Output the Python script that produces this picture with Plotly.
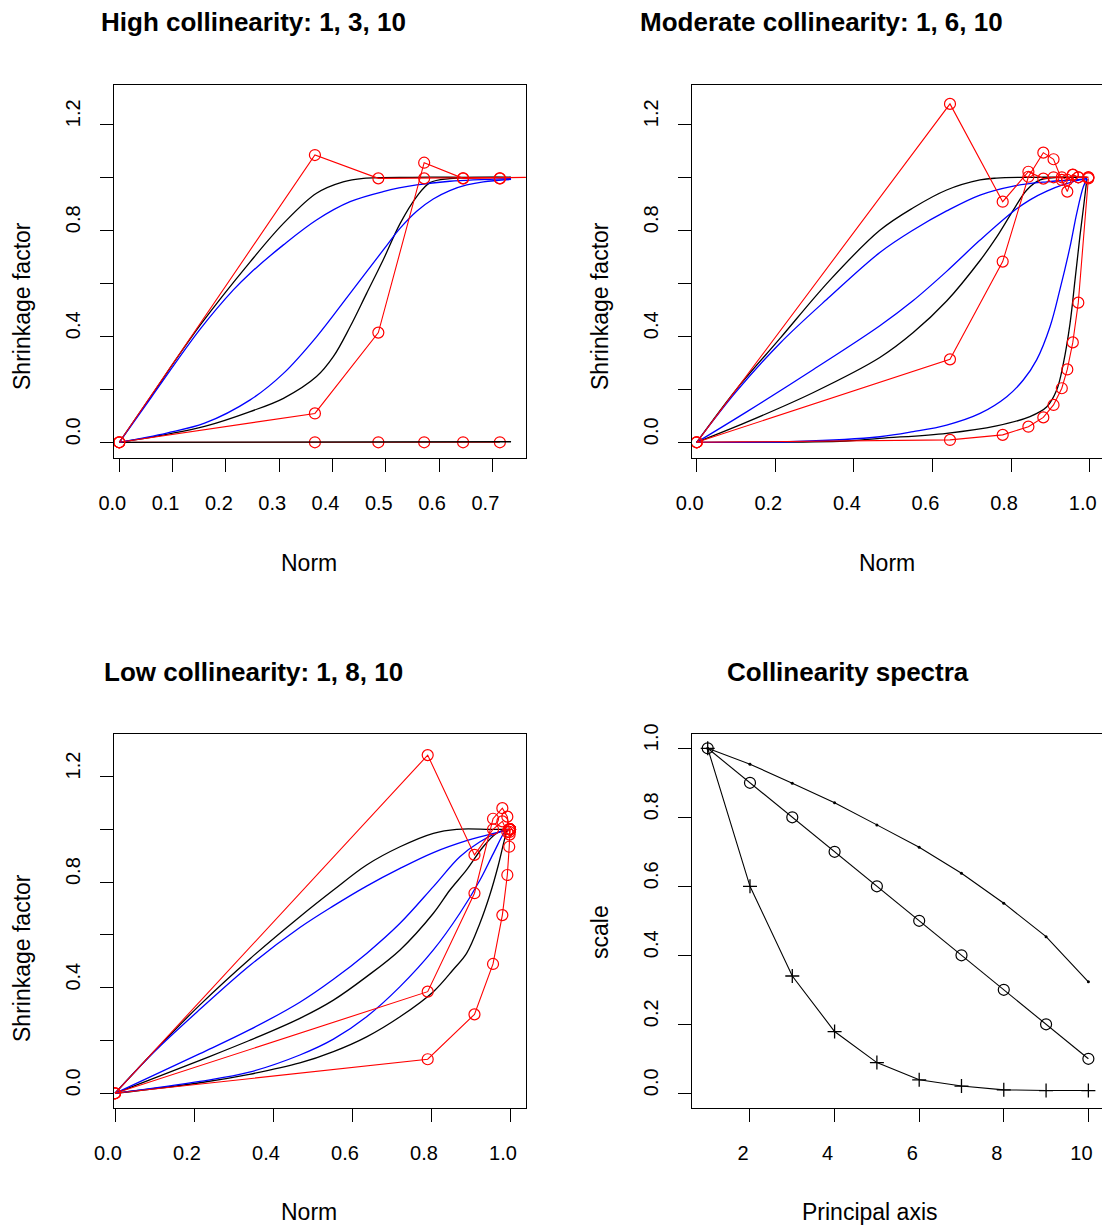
import plotly.graph_objects as go

W, H = 1102, 1226
FONT = "Liberation Sans, Arial, Helvetica, sans-serif"

# ---------------- Panel 1: High collinearity (components 1, 3, 10) ----------------
p1_pls_x = [0, 0.367, 0.486, 0.572, 0.645, 0.714, 0.80]
p1_pls_c1 = [0, 1.084, 0.996, 0.996, 0.996, 0.996, 1.0]
p1_pls_c3 = [0, 0.109, 0.414, 1.055, 0.996, 0.996, 1.0]
p1_pls_c10_x = [0, 0.367, 0.486, 0.572, 0.645, 0.714]
p1_pls_c10 = [0, 0, 0, 0, 0, 0]

p1_black_c1_x = [0, 0.058, 0.151, 0.2456, 0.308, 0.370, 0.420, 0.458, 0.55, 0.65, 0.735]
p1_black_c1_y = [0, 0.17, 0.44, 0.681, 0.826, 0.94, 0.983, 0.996, 1.0, 1.0, 1.0]
p1_blue_c1_x = [0, 0.06, 0.151, 0.214, 0.2456, 0.308, 0.370, 0.433, 0.495, 0.558, 0.62, 0.735]
p1_blue_c1_y = [0, 0.17, 0.425, 0.575, 0.638, 0.745, 0.839, 0.908, 0.946, 0.971, 0.985, 0.995]

p1_black_c3_x = [0, 0.089, 0.16, 0.2456, 0.308, 0.370, 0.4015, 0.433, 0.464, 0.495, 0.527, 0.558, 0.583, 0.620, 0.735]
p1_black_c3_y = [0, 0.03, 0.06, 0.116, 0.166, 0.248, 0.323, 0.436, 0.562, 0.688, 0.826, 0.927, 0.98, 0.995, 1.0]
p1_blue_c3_x = [0, 0.089, 0.16, 0.2456, 0.308, 0.370, 0.433, 0.495, 0.527, 0.558, 0.589, 0.620, 0.652, 0.683, 0.735]
p1_blue_c3_y = [0, 0.035, 0.072, 0.16, 0.26, 0.398, 0.562, 0.725, 0.808, 0.872, 0.918, 0.950, 0.971, 0.983, 0.992]

p1_black_c10_x = [0, 0.735]
p1_black_c10_y = [0, 0.002]

# ---------------- Panel 2: Moderate collinearity (components 1, 6, 10) ----------------
p2_pls_x = [0, 0.6445, 0.7786, 0.844, 0.882, 0.908, 0.929, 0.943, 0.957, 0.971, 0.9966]
p2_pls_c1 = [0, 1.277, 0.908, 1.021, 0.995, 1.0, 1.0, 0.99, 1.01, 1.0, 1.0]
p2_pls_c6 = [0, 0.313, 0.682, 1.002, 1.093, 1.068, 0.99, 0.946, 1.009, 1.0, 1.0]
p2_pls_c10 = [0, 0.009, 0.028, 0.059, 0.094, 0.141, 0.204, 0.275, 0.377, 0.527, 0.996]

p2_black_c1_x = [0, 0.1, 0.212, 0.339, 0.466, 0.551, 0.636, 0.721, 0.763, 0.85, 0.95, 0.993]
p2_black_c1_y = [0, 0.198, 0.392, 0.612, 0.80, 0.885, 0.952, 0.99, 0.997, 1.0, 1.0, 1.0]
p2_blue_c1_x = [0, 0.1, 0.212, 0.339, 0.466, 0.551, 0.636, 0.721, 0.806, 0.891, 0.975, 0.993]
p2_blue_c1_y = [0, 0.19, 0.374, 0.55, 0.716, 0.801, 0.873, 0.933, 0.967, 0.983, 0.992, 0.995]

p2_black_c6_x = [0, 0.127, 0.297, 0.466, 0.551, 0.636, 0.721, 0.763, 0.806, 0.840, 0.874, 0.95, 0.993]
p2_black_c6_y = [0, 0.076, 0.188, 0.32, 0.414, 0.533, 0.686, 0.774, 0.877, 0.952, 0.99, 1.0, 1.0]
p2_blue_c6_x = [0, 0.127, 0.297, 0.466, 0.551, 0.636, 0.721, 0.806, 0.848, 0.891, 0.933, 0.975, 0.993]
p2_blue_c6_y = [0, 0.115, 0.275, 0.44, 0.535, 0.645, 0.763, 0.872, 0.915, 0.948, 0.972, 0.99, 0.995]

p2_black_c10_x = [0, 0.38, 0.466, 0.636, 0.763, 0.848, 0.891, 0.916, 0.933, 0.95, 0.9626, 0.975, 0.9855, 0.993]
p2_black_c10_y = [0, 0.005, 0.015, 0.034, 0.062, 0.097, 0.134, 0.197, 0.298, 0.449, 0.612, 0.776, 0.902, 0.995]
p2_blue_c10_x = [0, 0.254, 0.466, 0.551, 0.636, 0.721, 0.789, 0.831, 0.865, 0.899, 0.924, 0.95, 0.967, 0.984, 0.993]
p2_blue_c10_y = [0, 0.003, 0.021, 0.04, 0.065, 0.109, 0.172, 0.235, 0.311, 0.436, 0.575, 0.738, 0.864, 0.965, 0.993]

# ---------------- Panel 3: Low collinearity (components 1, 8, 10) ----------------
p3_pls_x = [0, 0.7916, 0.910, 0.957, 0.9806, 0.9932, 0.998, 0.999, 1.0, 1.0, 1.0]
p3_pls_c1 = [0, 1.281, 0.903, 1.0, 1.03, 0.99, 1.0, 1.0, 1.0, 1.0, 1.0]
p3_pls_c8 = [0, 0.385, 0.758, 1.04, 1.08, 1.048, 1.0, 0.98, 1.0, 1.0, 1.0]
p3_pls_c10 = [0, 0.129, 0.299, 0.49, 0.675, 0.827, 0.934, 0.99, 1.0, 1.0, 1.0]

p3_black_c1_x = [0, 0.1, 0.215, 0.342, 0.468, 0.553, 0.637, 0.7215, 0.806, 0.865, 0.95, 1.0]
p3_black_c1_y = [0, 0.16, 0.335, 0.51, 0.669, 0.77, 0.865, 0.934, 0.985, 1.0, 1.0, 1.0]
p3_blue_c1_x = [0, 0.1, 0.215, 0.342, 0.468, 0.553, 0.637, 0.7215, 0.806, 0.89, 0.958, 0.995]
p3_blue_c1_y = [0, 0.158, 0.318, 0.485, 0.628, 0.71, 0.785, 0.852, 0.912, 0.957, 0.985, 0.997]

p3_black_c8_x = [0, 0.215, 0.34, 0.468, 0.553, 0.637, 0.7215, 0.806, 0.848, 0.89, 0.932, 0.966, 0.99]
p3_black_c8_y = [0, 0.125, 0.2, 0.284, 0.353, 0.442, 0.543, 0.682, 0.77, 0.846, 0.934, 0.985, 1.0]
p3_blue_c8_x = [0, 0.215, 0.34, 0.468, 0.553, 0.637, 0.7215, 0.806, 0.873, 0.924, 0.975, 0.995]
p3_blue_c8_y = [0, 0.15, 0.24, 0.345, 0.432, 0.53, 0.644, 0.783, 0.896, 0.953, 0.991, 1.0]

p3_black_c10_x = [0, 0.215, 0.34, 0.468, 0.553, 0.637, 0.7215, 0.806, 0.857, 0.89, 0.924, 0.949, 0.970, 0.985, 0.993]
p3_black_c10_y = [0, 0.04, 0.072, 0.115, 0.158, 0.214, 0.29, 0.385, 0.47, 0.53, 0.645, 0.752, 0.862, 0.955, 1.0]
p3_blue_c10_x = [0, 0.215, 0.34, 0.468, 0.553, 0.637, 0.7215, 0.806, 0.873, 0.924, 0.958, 0.987, 0.995]
p3_blue_c10_y = [0, 0.045, 0.08, 0.145, 0.205, 0.29, 0.404, 0.543, 0.682, 0.808, 0.909, 0.991, 1.0]

# ---------------- Panel 4: Collinearity spectra ----------------
p4_axis = [1, 2, 3, 4, 5, 6, 7, 8, 9, 10]
p4_high = [1.0, 0.60, 0.34, 0.179, 0.089, 0.039, 0.021, 0.01, 0.008, 0.008]
p4_moderate = [1.0, 0.9, 0.8, 0.7, 0.6, 0.5, 0.4, 0.3, 0.2, 0.1]
p4_low = [1.0, 0.954, 0.899, 0.842, 0.778, 0.713, 0.638, 0.551, 0.454, 0.323]

# tick labels
norm_ticks_p1 = [0.0, 0.1, 0.2, 0.3, 0.4, 0.5, 0.6, 0.7]
norm_ticks_unit = [0.0, 0.2, 0.4, 0.6, 0.8, 1.0]
shrink_ticks = [0.0, 0.2, 0.4, 0.6, 0.8, 1.0, 1.2]
shrink_text = ["0.0", "", "0.4", "", "0.8", "", "1.2"]
axis_ticks = [2, 4, 6, 8, 10]
scale_ticks = [0.0, 0.2, 0.4, 0.6, 0.8, 1.0]

RED, BLUE, BLACK = "#FF0000", "#0000FF", "#000000"

fig = go.Figure()


def curve(x, y, color, ax):
    fig.add_trace(go.Scatter(
        x=x, y=y, mode="lines", xaxis="x" + ax, yaxis="y" + ax,
        line=dict(color=color, width=1.3, shape="spline", smoothing=1.0),
        showlegend=False, hoverinfo="skip"))


def pls(x, y, ax):
    fig.add_trace(go.Scatter(
        x=x, y=y, mode="lines+markers", xaxis="x" + ax, yaxis="y" + ax,
        line=dict(color=RED, width=1.1),
        marker=dict(symbol="circle-open", size=11, color=RED, line=dict(width=1.2, color=RED)),
        showlegend=False, hoverinfo="skip"))


# panel 1
pls(p1_pls_c10_x, p1_pls_c10, "")
curve(p1_black_c10_x, p1_black_c10_y, BLACK, "")
curve(p1_black_c1_x, p1_black_c1_y, BLACK, "")
curve(p1_black_c3_x, p1_black_c3_y, BLACK, "")
curve(p1_blue_c1_x, p1_blue_c1_y, BLUE, "")
curve(p1_blue_c3_x, p1_blue_c3_y, BLUE, "")
pls(p1_pls_x, p1_pls_c1, "")
pls(p1_pls_x, p1_pls_c3, "")

# panel 2
curve(p2_black_c1_x, p2_black_c1_y, BLACK, "2")
curve(p2_black_c6_x, p2_black_c6_y, BLACK, "2")
curve(p2_black_c10_x, p2_black_c10_y, BLACK, "2")
curve(p2_blue_c1_x, p2_blue_c1_y, BLUE, "2")
curve(p2_blue_c6_x, p2_blue_c6_y, BLUE, "2")
curve(p2_blue_c10_x, p2_blue_c10_y, BLUE, "2")
pls(p2_pls_x, p2_pls_c1, "2")
pls(p2_pls_x, p2_pls_c6, "2")
pls(p2_pls_x, p2_pls_c10, "2")

# panel 3
curve(p3_black_c1_x, p3_black_c1_y, BLACK, "3")
curve(p3_black_c8_x, p3_black_c8_y, BLACK, "3")
curve(p3_black_c10_x, p3_black_c10_y, BLACK, "3")
curve(p3_blue_c1_x, p3_blue_c1_y, BLUE, "3")
curve(p3_blue_c8_x, p3_blue_c8_y, BLUE, "3")
curve(p3_blue_c10_x, p3_blue_c10_y, BLUE, "3")
pls(p3_pls_x, p3_pls_c1, "3")
pls(p3_pls_x, p3_pls_c8, "3")
pls(p3_pls_x, p3_pls_c10, "3")

# panel 4
fig.add_trace(go.Scatter(x=p4_axis, y=p4_high, mode="lines+markers", xaxis="x4", yaxis="y4",
                         line=dict(color=BLACK, width=1.1),
                         marker=dict(symbol="cross-thin-open", size=10, color=BLACK, line=dict(width=1.3, color=BLACK)),
                         showlegend=False, hoverinfo="skip"))
fig.add_trace(go.Scatter(x=p4_axis, y=p4_moderate, mode="lines+markers", xaxis="x4", yaxis="y4",
                         line=dict(color=BLACK, width=1.1),
                         marker=dict(symbol="circle-open", size=11, color=BLACK, line=dict(width=1.2, color=BLACK)),
                         showlegend=False, hoverinfo="skip"))
fig.add_trace(go.Scatter(x=p4_axis, y=p4_low, mode="lines+markers", xaxis="x4", yaxis="y4",
                         line=dict(color=BLACK, width=1.1),
                         marker=dict(symbol="circle", size=3, color=BLACK),
                         showlegend=False, hoverinfo="skip"))

dom_x_left = [114 / W, 525.7 / W]
dom_x_right = [692.3 / W, 1.0]
dom_y_top = [1 - 457.7 / H, 1 - 84.7 / H]
dom_y_bot = [1 - 1108.3 / H, 1 - 734 / H]

tickfont = dict(family=FONT, size=20, color=BLACK)
common = dict(showgrid=False, zeroline=False, showline=True, linecolor=BLACK, linewidth=1,
              ticks="outside", ticklen=13, tickwidth=1, tickcolor=BLACK, tickfont=tickfont,
              automargin=False)
XSTAND, YSTAND = 14, 12


def xax(domain, anchor, rng, vals, texts):
    return dict(domain=domain, anchor=anchor, range=rng, tickvals=vals, ticktext=texts,
                mirror=True, ticklabelstandoff=XSTAND, ticklabelshift=-7, **common)


def yax(domain, anchor, rng, vals, texts, mirror):
    return dict(domain=domain, anchor=anchor, range=rng, tickvals=vals, ticktext=texts,
                mirror=mirror, tickangle=-90, ticklabelstandoff=YSTAND, ticklabelshift=-8, **common)


fmt1 = [f"{v:.1f}" for v in norm_ticks_p1]
fmtu = [f"{v:.1f}" for v in norm_ticks_unit]
fig.update_layout(
    template="none",
    width=W, height=H, margin=dict(l=0, r=0, t=0, b=0, pad=0, autoexpand=False),
    paper_bgcolor="white", plot_bgcolor="white",
    font=dict(family=FONT, color=BLACK),
    xaxis=xax(dom_x_left, "y", [-0.00994, 0.76248], norm_ticks_p1, fmt1),
    yaxis=yax(dom_y_top, "x", [-0.0581, 1.3494], shrink_ticks, shrink_text, True),
    xaxis2=xax(dom_x_right, "y2", [-0.0112, 1.0313], norm_ticks_unit, fmtu),
    yaxis2=yax(dom_y_top, "x2", [-0.0581, 1.3494], shrink_ticks, shrink_text, False),
    xaxis3=xax(dom_x_left, "y3", [-0.00253, 1.0397], norm_ticks_unit, fmtu),
    yaxis3=yax(dom_y_bot, "x3", [-0.0568, 1.361], shrink_ticks, shrink_text, True),
    xaxis4=xax(dom_x_right, "y4", [0.636, 10.322], axis_ticks, [str(v) for v in axis_ticks]),
    yaxis4=yax(dom_y_bot, "x4", [-0.0435, 1.0414], scale_ticks, [f"{v:.1f}" for v in scale_ticks], False),
)


def ann(text, x, y, size, angle=0, bold=False):
    fig.add_annotation(text=f"<b>{text}</b>" if bold else text, x=x / W, y=1 - y / H,
                       xref="paper", yref="paper", xanchor="center", yanchor="middle",
                       showarrow=False, textangle=angle, font=dict(family=FONT, size=size, color=BLACK))


ann("High collinearity: 1, 3, 10", 253.5, 22, 26, bold=True)
ann("Moderate collinearity: 1, 6, 10", 821.5, 22, 26, bold=True)
ann("Low collinearity: 1, 8, 10", 253.5, 672, 26, bold=True)
ann("Collinearity spectra", 848, 672, 26, bold=True)
ann("Norm", 309, 563, 23)
ann("Norm", 887, 563, 23)
ann("Norm", 309, 1212, 23)
ann("Principal axis", 870, 1212, 23)
ann("Shrinkage factor", 22, 306, 23, angle=-90)
ann("Shrinkage factor", 600, 306, 23, angle=-90)
ann("Shrinkage factor", 22, 958, 23, angle=-90)
ann("scale", 600, 932, 23, angle=-90)

fig.write_html("out.html")
